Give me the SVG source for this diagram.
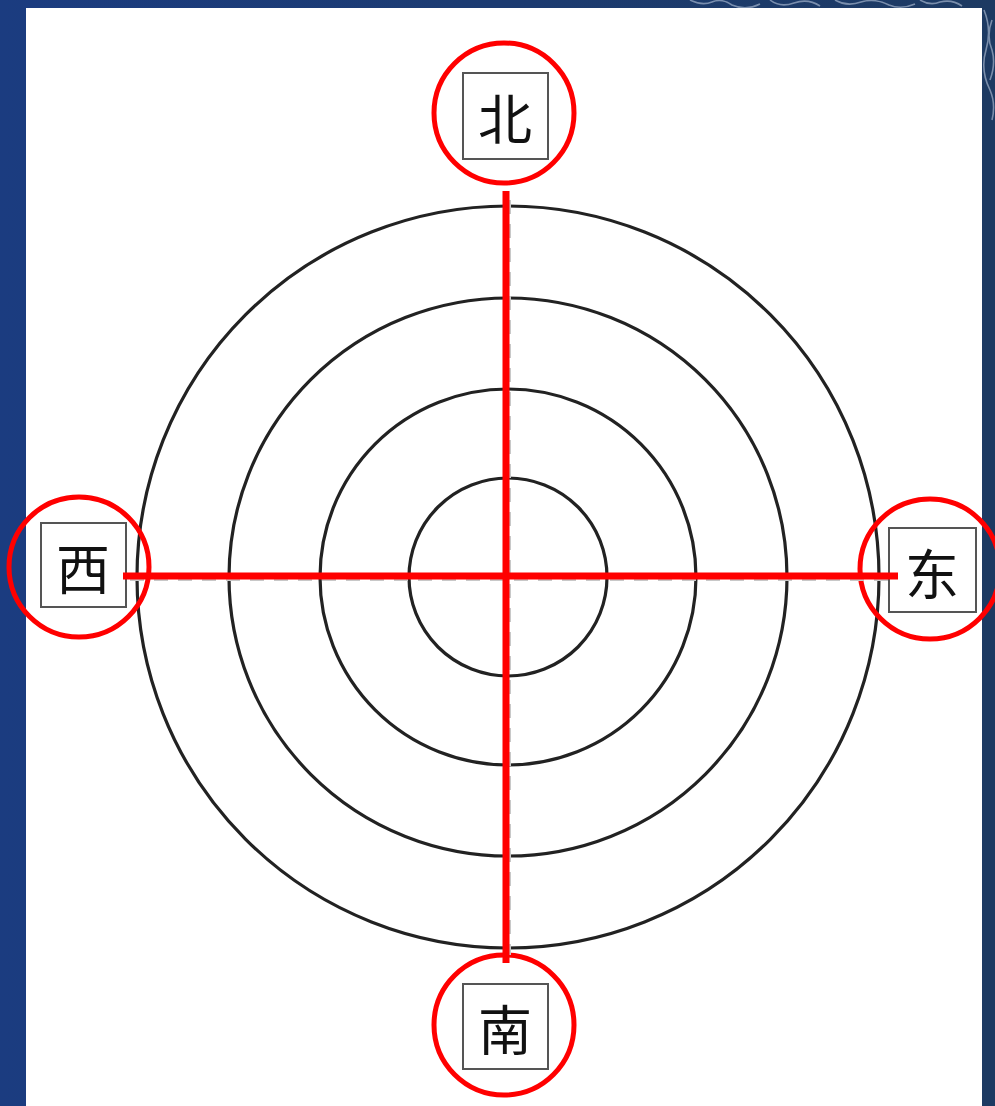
<svg xmlns="http://www.w3.org/2000/svg" width="995" height="1106" viewBox="0 0 995 1106">
  <defs>
    <linearGradient id="bg" x1="0" y1="0" x2="1" y2="0">
      <stop offset="0" stop-color="#1b3c80"/>
      <stop offset="1" stop-color="#1d3a62"/>
    </linearGradient>
    <style>
      .ring{fill:none;stroke:#222;stroke-width:3.2}
      .guide{fill:none;stroke:#c8c8c8;stroke-width:2;stroke-dasharray:14 10}
      .red{stroke:#ff0000;stroke-width:7;fill:none}
      .halo{fill:none;stroke:#ff0000;stroke-width:5}
      .box{fill:#fff;stroke:#555;stroke-width:2}
      .lbl{font-family:"Noto Sans CJK SC","Noto Sans CJK TC",sans-serif;font-size:54px;fill:#111;text-anchor:middle;dominant-baseline:central}
    </style>
  </defs>
  <rect width="995" height="1106" fill="url(#bg)"/>
  <g id="decor" fill="none" stroke="#b8c6dc" stroke-width="1.6" opacity="0.6">
    <path d="M690 0 q12 6 22 2 q10 -4 20 3 q14 6 28 -1"/>
    <path d="M770 0 q10 8 24 3 q14 -5 26 3"/>
    <path d="M835 0 q12 7 26 2 q14 -4 28 3 q12 5 26 -1"/>
    <path d="M920 0 q10 6 20 2 q12 -3 22 4"/>
    <path d="M984 10 q8 20 2 40 q-6 20 4 40 q6 14 2 30"/>
    <path d="M992 20 q-6 16 0 30 q4 14 -2 30"/>
  </g>
  <rect id="panel" x="26" y="8" width="956" height="1098" fill="#fff"/>
  <g id="rings">
    <circle class="ring" cx="508" cy="577" r="371"/>
    <circle class="ring" cx="508" cy="577" r="279"/>
    <circle class="ring" cx="508" cy="577" r="188"/>
    <circle class="ring" cx="508" cy="577" r="99"/>
  </g>
  <g id="north">
    <circle class="halo" cx="504" cy="113" r="70"/>
    <rect class="box" x="463" y="73" width="85" height="86"/>
    <text class="lbl" x="505" y="116">北</text>
  </g>
  <g id="west">
    <circle class="halo" cx="79" cy="567" r="70"/>
    <rect class="box" x="41" y="523" width="85" height="84"/>
    <text class="lbl" x="83" y="566">西</text>
  </g>
  <g id="east">
    <circle class="halo" cx="930" cy="569" r="70"/>
    <rect class="box" x="889" y="528" width="87" height="84"/>
    <text class="lbl" x="932" y="571">东</text>
  </g>
  <g id="south">
    <circle class="halo" cx="504" cy="1025" r="70"/>
    <rect class="box" x="463" y="984" width="85" height="85"/>
    <text class="lbl" x="505" y="1027">南</text>
  </g>
  <g id="connectors">
    <line class="guide" x1="510" y1="200" x2="510" y2="955"/>
    <line class="guide" x1="130" y1="580" x2="890" y2="580"/>
    <line class="red" x1="506" y1="191" x2="506" y2="963"/>
    <line class="red" x1="123" y1="576" x2="898" y2="576"/>
  </g>
</svg>
